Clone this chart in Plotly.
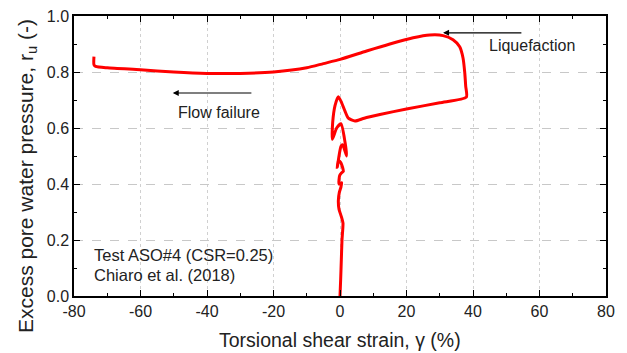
import plotly.graph_objects as go

# strain (%) and excess pore pressure ratio
strain = [0.0, 0.2, 0.4, 0.6, 0.9, 0.5, -0.3, -0.5, -0.2, 0.3, 0.5, -0.3, -0.1, 0.5, 1.0, 0.3, -0.5,
          -0.8, -0.3, 0.3, 0.8, 2.0, 1.5, 0.3, -1.0, -2.3, -2.2, -1.5, -0.5, 0.5, 1.5, 2.5, 4.5, 7.3,
          12, 20, 30, 38, 37.8, 37.5, 37, 36, 34, 31, 27, 22, 15, 8, 0, -5, -10, -20, -30, -40, -50,
          -60, -70, -73.5, -74, -74]
ru = [0.0, 0.06, 0.13, 0.2, 0.26, 0.28, 0.31, 0.34, 0.37, 0.39, 0.405, 0.40, 0.43, 0.44, 0.445, 0.475,
      0.485, 0.46, 0.50, 0.535, 0.54, 0.50, 0.55, 0.615, 0.60, 0.56, 0.62, 0.68, 0.712, 0.69, 0.66, 0.635,
      0.625, 0.635, 0.648, 0.668, 0.69, 0.71, 0.75, 0.80, 0.85, 0.89, 0.915, 0.93, 0.932, 0.922, 0.90,
      0.875, 0.845, 0.83, 0.815, 0.80, 0.795, 0.795, 0.80, 0.808, 0.815, 0.82, 0.826, 0.855]

x_ticks = [-80, -60, -40, -20, 0, 20, 40, 60, 80]
y_ticks = [0.0, 0.2, 0.4, 0.6, 0.8, 1.0]

fig = go.Figure()
fig.add_trace(go.Scatter(x=strain, y=ru, mode="lines", line=dict(color="#FF0000", width=3, shape="spline", smoothing=0.6),
                         showlegend=False, hoverinfo="skip"))

font = "Liberation Sans, Arial, sans-serif"
axis_common = dict(showline=True, linecolor="black", linewidth=1.5, mirror="ticks", ticks="inside",
                   ticklen=6, tickwidth=1.2, tickcolor="black", zeroline=False, automargin=False,
                   tickfont=dict(family=font, size=16, color="#222"))

fig.update_xaxes(range=[-80, 80], tickvals=x_ticks, ticktext=[str(v) for v in x_ticks],
                 showgrid=True, gridcolor="#d0d0d0", gridwidth=1, griddash="dot",
                 minor=dict(ticks="inside", ticklen=3, tickcolor="black", dtick=10, tick0=0, showgrid=False),
                 **axis_common)
fig.update_yaxes(range=[0, 1.0], tickvals=y_ticks, ticktext=[f"{v:.1f}" for v in y_ticks],
                 showgrid=True, gridcolor="#c8c8c8", gridwidth=1, griddash="dash",
                 minor=dict(ticks="inside", ticklen=3, tickcolor="black", dtick=0.1, tick0=0, showgrid=False),
                 **axis_common)

# axis titles
fig.add_annotation(x=0.5, y=-0.157, xref="paper", yref="paper", text="Torsional shear strain, γ (%)",
                   showarrow=False, xanchor="center", yanchor="middle",
                   font=dict(family=font, size=19.5, color="#222"))
fig.add_annotation(x=-0.0883, y=0.4286, xref="paper", yref="paper",
                   text="Excess pore water pressure, r<sub>u</sub> (-)", textangle=-90,
                   showarrow=False, xanchor="center", yanchor="middle",
                   font=dict(family=font, size=21, color="#222"))

fig.add_annotation(x=31, y=0.94, ax=55, ay=0.94, xref="x", yref="y", axref="x", ayref="y",
                   showarrow=True, arrowhead=2, arrowsize=1, arrowwidth=1.2, arrowcolor="black", text="")
fig.add_annotation(x=44.3, y=0.896, xref="x", yref="y", text="Liquefaction", showarrow=False,
                   xanchor="left", font=dict(family=font, size=16, color="#222"))
fig.add_annotation(x=-50.3, y=0.725, ax=-26.2, ay=0.725, xref="x", yref="y", axref="x", ayref="y",
                   showarrow=True, arrowhead=2, arrowsize=1, arrowwidth=1.2, arrowcolor="black", text="")
fig.add_annotation(x=-49.3, y=0.654, xref="x", yref="y", text="Flow failure", showarrow=False,
                   xanchor="left", font=dict(family=font, size=16, color="#222"))
fig.add_annotation(x=-74.5, y=0.148, xref="x", yref="y", text="Test ASO#4 (CSR=0.25)", showarrow=False,
                   xanchor="left", font=dict(family=font, size=16.5, color="#222"))
fig.add_annotation(x=-74.5, y=0.074, xref="x", yref="y", text="Chiaro et al. (2018)", showarrow=False,
                   xanchor="left", font=dict(family=font, size=16.5, color="#222"))

fig.update_layout(width=627, height=353, margin=dict(l=74, r=21, t=16, b=57),
                  plot_bgcolor="white", paper_bgcolor="white")

fig.write_html("out.html")
